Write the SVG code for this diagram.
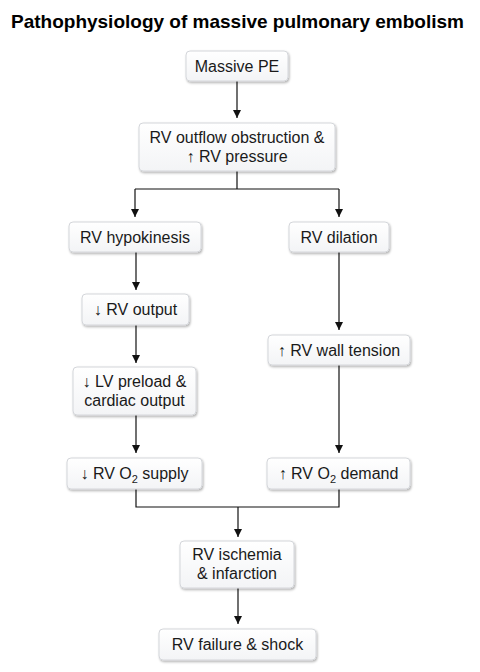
<svg xmlns="http://www.w3.org/2000/svg" width="480" height="672" viewBox="0 0 480 672">
<defs>
<linearGradient id="g" x1="0" y1="0" x2="0" y2="1">
<stop offset="0" stop-color="#ffffff"/>
<stop offset="1" stop-color="#f3f4f6"/>
</linearGradient>
<filter id="sh" x="-10%" y="-20%" width="130%" height="150%">
<feDropShadow dx="1" dy="1.5" stdDeviation="1.2" flood-color="#000" flood-opacity="0.3"/>
</filter>
<marker id="ah" viewBox="0 0 10 10" refX="10" refY="5" markerWidth="8" markerHeight="8" markerUnits="userSpaceOnUse" orient="auto">
<path d="M0,0 L10,5 L0,10 z" fill="#111"/>
</marker>
</defs>
<style>
.box{fill:url(#g);stroke:#d4d6da;stroke-width:1;filter:url(#sh)}
.t{font-family:"Liberation Sans",Arial,sans-serif;font-size:16px;fill:#1a1a1a;text-anchor:middle}
.c{fill:none;stroke:#111;stroke-width:1.2}
.title{font-family:"Liberation Sans",Arial,sans-serif;font-size:19px;font-weight:bold;fill:#000}
</style>
<rect width="480" height="672" fill="#fff"/>
<text class="title" x="11" y="28">Pathophysiology of massive pulmonary embolism</text>
<g id="connectors">
<path class="c" d="M237,81 V118" marker-end="url(#ah)"/>
<path class="c" d="M237,171 V189 M135,189 H339"/>
<path class="c" d="M135,189 V217" marker-end="url(#ah)"/>
<path class="c" d="M339,189 V217" marker-end="url(#ah)"/>
<path class="c" d="M136,252 V290" marker-end="url(#ah)"/>
<path class="c" d="M136,325 V363" marker-end="url(#ah)"/>
<path class="c" d="M136,415 V453" marker-end="url(#ah)"/>
<path class="c" d="M339,252 V330" marker-end="url(#ah)"/>
<path class="c" d="M339,365 V453" marker-end="url(#ah)"/>
<path class="c" d="M136,489 V507 H339 V489"/>
<path class="c" d="M238,507 V537" marker-end="url(#ah)"/>
<path class="c" d="M238,588 V624" marker-end="url(#ah)"/>
</g>
<g id="n1"><rect class="box" x="186" y="51" width="102" height="30" rx="4"/><text class="t" x="237" y="71.5">Massive PE</text></g>
<g id="n2"><rect class="box" x="139" y="123" width="196" height="48" rx="4"/><text class="t" x="237" y="143">RV outflow obstruction &amp;</text><text class="t" x="237" y="162">↑ RV pressure</text></g>
<g id="n3"><rect class="box" x="69" y="222" width="132" height="30" rx="4"/><text class="t" x="135" y="242.5">RV hypokinesis</text></g>
<g id="n4"><rect class="box" x="289" y="222" width="100" height="30" rx="4"/><text class="t" x="339" y="242.5">RV dilation</text></g>
<g id="n5"><rect class="box" x="82" y="294" width="107" height="31" rx="4"/><text class="t" x="135.5" y="315">↓ RV output</text></g>
<g id="n6"><rect class="box" x="73" y="367" width="123" height="48" rx="4"/><text class="t" x="134.5" y="387">↓ LV preload &amp;</text><text class="t" x="134.5" y="406">cardiac output</text></g>
<g id="n7"><rect class="box" x="268" y="335" width="142" height="30" rx="4"/><text class="t" x="339" y="356">↑ RV wall tension</text></g>
<g id="n8"><rect class="box" x="67" y="458" width="135" height="31" rx="4"/><text class="t" x="134.5" y="479">↓ RV O<tspan font-size="11" dy="4">2</tspan><tspan dy="-4"> supply</tspan></text></g>
<g id="n9"><rect class="box" x="267" y="458" width="143" height="31" rx="4"/><text class="t" x="338.5" y="479">↑ RV O<tspan font-size="11" dy="4">2</tspan><tspan dy="-4"> demand</tspan></text></g>
<g id="n10"><rect class="box" x="180" y="541" width="114" height="47" rx="4"/><text class="t" x="237" y="560">RV ischemia</text><text class="t" x="237" y="579">&amp; infarction</text></g>
<g id="n11"><rect class="box" x="159" y="629" width="157" height="31" rx="4"/><text class="t" x="237.5" y="650">RV failure &amp; shock</text></g>
</svg>
